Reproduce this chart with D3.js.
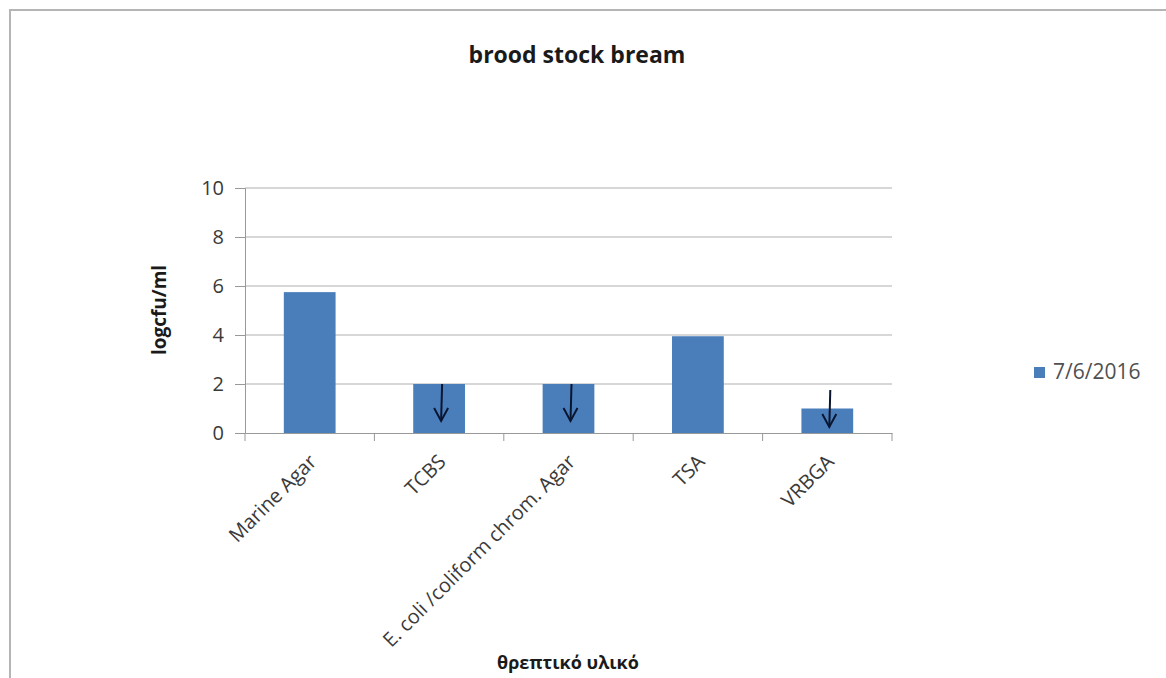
<!DOCTYPE html>
<html><head><meta charset="utf-8">
<script src="https://cdn.jsdelivr.net/npm/d3@7"></script>
<style>body{margin:0;background:#fff}svg{display:block}</style>
</head><body>
<svg id="c" width="1166" height="678"></svg>
<script>
const categories = ["Marine Agar", "TCBS", "E. coli /coliform chrom. Agar", "TSA", "VRBGA"];
const values = [5.75, 2.0, 2.0, 3.95, 1.0];
const belowLimit = [false, true, true, false, true];
const yTicks = [0, 2, 4, 6, 8, 10];
const seriesName = "7/6/2016";
const title = "brood stock bream";
const yTitle = "logcfu/ml";
const xTitle = "θρεπτικό υλικό";

const svg = d3.select("#c");
const font = "'Open Sans', sans-serif";
const m = {left: 245, right: 892, top: 188, bottom: 433};
const x = d3.scaleBand().domain(categories).range([m.left, m.right]).paddingInner(0.6).paddingOuter(0.3);
const xb = d3.scaleBand().domain(categories).range([m.left, m.right]);
const y = d3.scaleLinear().domain([0, 10]).range([m.bottom, m.top]);

svg.append("rect").attr("x", 10).attr("y", 10).attr("width", 1170).attr("height", 690)
  .attr("fill", "none").attr("stroke", "#b5b5b5").attr("stroke-width", 2);

svg.append("g").selectAll("line").data(yTicks.filter(d => d > 0)).join("line")
  .attr("x1", m.left).attr("x2", m.right).attr("y1", d => y(d)).attr("y2", d => y(d))
  .attr("stroke", "#b0b0b0").attr("stroke-width", 1.2);

const ya = svg.append("g").attr("transform", `translate(${m.left},0)`)
  .call(d3.axisLeft(y).tickValues(yTicks).tickSize(10).tickPadding(11));
ya.select(".domain").attr("stroke", "#999");
ya.selectAll(".tick line").attr("stroke", "#999");
ya.selectAll("text").attr("font-family", font).attr("font-size", 20).attr("fill", "#3a3a3a");

svg.append("g").selectAll("rect").data(categories).join("rect")
  .attr("x", d => x(d)).attr("width", x.bandwidth())
  .attr("y", (d, i) => y(values[i])).attr("height", (d, i) => y(0) - y(values[i]))
  .attr("fill", "#4a7ebb");

const xa = svg.append("g").attr("transform", `translate(0,${m.bottom})`)
  .call(d3.axisBottom(xb).tickSize(0).tickFormat(""));
xa.select(".domain").attr("stroke", "#999");
const bounds = categories.map(c => xb(c)).concat([m.right]);
svg.append("g").selectAll("line").data(bounds).join("line")
  .attr("x1", d => d).attr("x2", d => d).attr("y1", m.bottom).attr("y2", m.bottom + 8)
  .attr("stroke", "#999");

svg.append("g").selectAll("text").data(categories).join("text")
  .attr("transform", d => `translate(${xb(d) + xb.bandwidth() / 2 + 8},${m.bottom + 30}) rotate(-45)`)
  .attr("text-anchor", "end").attr("font-family", font).attr("font-size", 20).attr("fill", "#3a3a3a")
  .text(d => d);

// arrows marking values below detection limit
const ar = svg.append("g").attr("stroke", "#0a1530").attr("stroke-width", 2).attr("fill", "none");
categories.forEach((c, i) => {
  if (!belowLimit[i]) return;
  const cx = x(c) + x.bandwidth() / 2 + 2;
  const y2 = Math.min(y(values[i]) + 37, y(0) - 6), y1 = y2 - 37;
  ar.append("line").attr("x1", cx + 1).attr("y1", y1).attr("x2", cx).attr("y2", y2);
  ar.append("path").attr("d", `M${cx - 7},${y2 - 13} L${cx},${y2} L${cx + 7},${y2 - 13}`);
});

svg.append("text").attr("x", 577).attr("y", 63).attr("text-anchor", "middle")
  .attr("font-family", font).attr("font-weight", "bold").attr("font-size", 23).attr("fill", "#1a1a1a").text(title);
svg.append("text").attr("transform", `translate(166,310) rotate(-90)`)
  .attr("text-anchor", "middle").attr("font-family", font).attr("font-weight", "bold").attr("font-size", 19)
  .attr("fill", "#1a1a1a").text(yTitle);
svg.append("text").attr("x", 568).attr("y", 669).attr("text-anchor", "middle")
  .attr("font-family", font).attr("font-weight", "bold").attr("font-size", 18).attr("fill", "#1a1a1a").text(xTitle);

svg.append("rect").attr("x", 1034).attr("y", 367).attr("width", 11).attr("height", 11).attr("fill", "#4a7ebb");
svg.append("text").attr("x", 1053).attr("y", 379).attr("font-family", font).attr("font-size", 21)
  .attr("fill", "#505050").text(seriesName);
</script>
</body></html>
